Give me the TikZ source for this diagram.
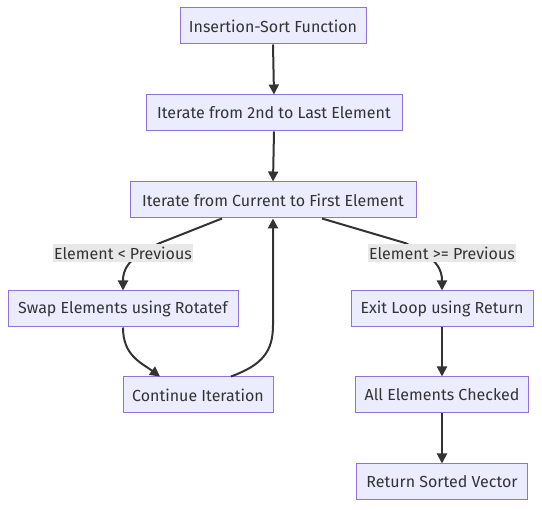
\documentclass[tikz,border=0pt]{standalone}
\usepackage{fontspec}
\setmainfont{Fira Sans}
\usetikzlibrary{arrows.meta}
\definecolor{nodefill}{HTML}{ECECFF}
\definecolor{nodeline}{HTML}{9370DB}
\definecolor{ink}{HTML}{333333}
\definecolor{lblbg}{HTML}{E8E8E8}
\tikzset{
  box/.style={draw=nodeline, fill=nodefill, line width=1pt, minimum height=36pt, inner sep=0pt, text=ink, font=\fontsize{16}{18}\selectfont},
  lbl/.style={fill=lblbg, inner xsep=1pt, inner ysep=0pt, minimum height=18pt, text=ink, font=\fontsize{16}{18}\selectfont},
  edge/.style={draw=ink, line width=2pt, -{Triangle[length=10pt,width=10pt]}},
}
\begin{document}
\begin{tikzpicture}[x=1pt,y=-1pt]
\useasboundingbox (0,0) rectangle (542,510);
\node[box, minimum width=186pt] (a) at (273,26) {Insertion-Sort Function};
\node[box, minimum width=256pt] (b) at (274,113) {Iterate from 2nd to Last Element};
\node[box, minimum width=286pt] (c) at (273,200) {Iterate from Current to First Element};
\node[box, minimum width=230pt] (s) at (123,309) {Swap Elements using Rotatef};
\node[box, minimum width=182pt] (e) at (442,309) {Exit Loop using Return};
\node[box, minimum width=150pt] (k) at (198,395) {Continue Iteration};
\node[box, minimum width=173pt] (all) at (442,395) {All Elements Checked};
\node[box, minimum width=171pt] (r) at (442,482) {Return Sorted Vector};

\coordinate (c1) at (160,243);
\coordinate (c2) at (405,243);
\coordinate (k1) at (273,325);

\draw[edge] (a.south) -- (b.north);
\draw[edge] (b.south) -- (c.north);
\draw[edge] ([xshift=-51pt]c.south) -- (c1) .. controls (127,258) and (123,270) .. (s.north);
\draw[edge] ([xshift=49pt]c.south) -- (c2) .. controls (438,258) and (442,270) .. (e.north);
\draw[edge] (s.south) .. controls (123,355) and (140,362) .. ([xshift=-38pt]k.north);
\draw[edge] ([xshift=33pt]k.north) .. controls (262,365) and (273,352) .. (k1) -- (c.south);
\draw[edge] (e.south) -- (all.north);
\draw[edge] (all.south) -- (r.north);

\node[lbl] (l1) at (123,253) {Element < Previous};
\node[lbl] (l2) at (442,253) {Element >= Previous};
\end{tikzpicture}
\end{document}
